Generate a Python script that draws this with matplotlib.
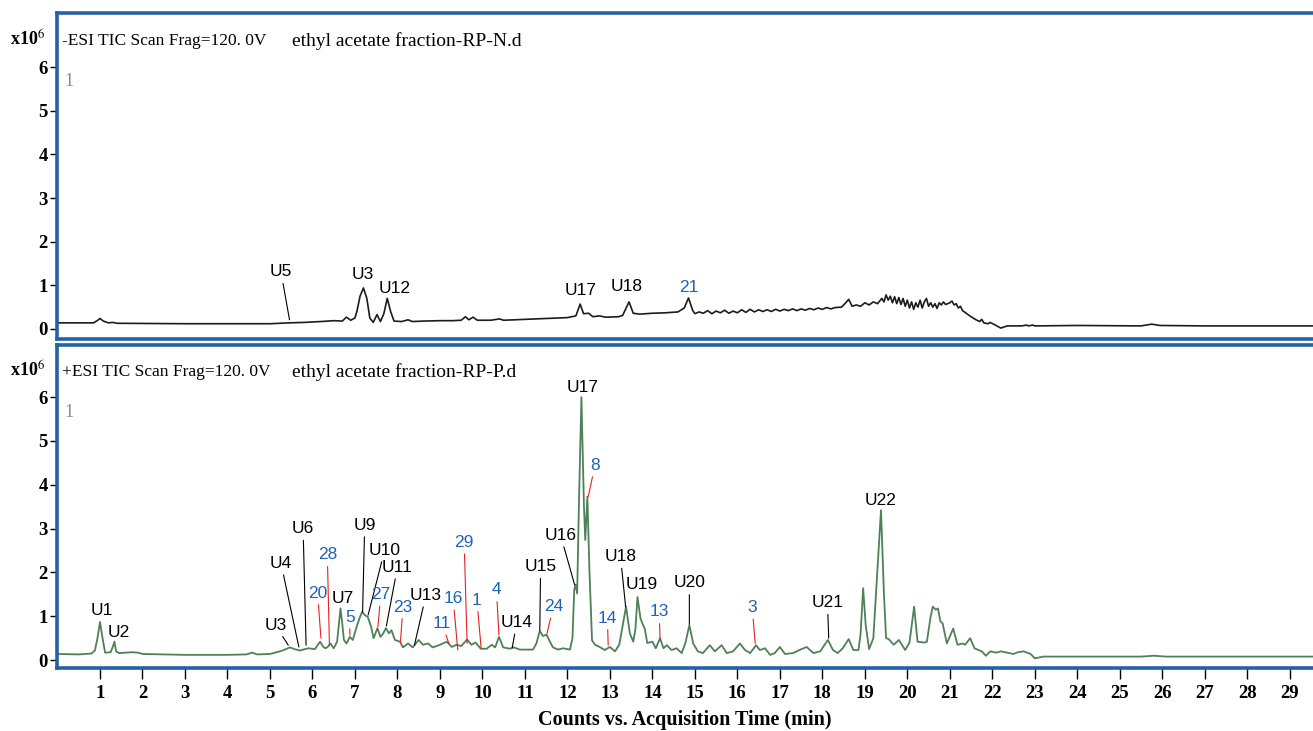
import matplotlib
matplotlib.use("Agg")
import matplotlib.pyplot as plt

plt.rcParams["mathtext.fontset"] = "stix"

# ---- data: (time in min, counts x10^6) ----
neg_trace = [
    (0.0, 0.14), (0.85, 0.14), (0.95, 0.2), (1.0, 0.24), (1.08, 0.18), (1.2, 0.14), (1.3, 0.15),
    (1.4, 0.13), (3.0, 0.12), (5.0, 0.12), (5.45, 0.14), (5.8, 0.15), (6.2, 0.17), (6.5, 0.19),
    (6.7, 0.18), (6.8, 0.27), (6.9, 0.2), (7.0, 0.25), (7.05, 0.42), (7.12, 0.75), (7.2, 0.94),
    (7.28, 0.7), (7.35, 0.25), (7.43, 0.15), (7.52, 0.33), (7.6, 0.17), (7.68, 0.35), (7.76, 0.7),
    (7.84, 0.4), (7.92, 0.18), (8.1, 0.17), (8.25, 0.21), (8.35, 0.17), (8.6, 0.18), (9.0, 0.19),
    (9.3, 0.19), (9.5, 0.2), (9.6, 0.28), (9.68, 0.21), (9.78, 0.27), (9.88, 0.2), (10.2, 0.2),
    (10.4, 0.23), (10.5, 0.2), (11.0, 0.22), (11.5, 0.24), (12.0, 0.26), (12.2, 0.3), (12.3, 0.57),
    (12.38, 0.35), (12.5, 0.36), (12.6, 0.28), (12.75, 0.3), (12.9, 0.27), (13.2, 0.28), (13.3, 0.31),
    (13.45, 0.62), (13.55, 0.36), (13.7, 0.34), (14.0, 0.36), (14.3, 0.37), (14.6, 0.39), (14.75, 0.48),
    (14.85, 0.71), (14.95, 0.42), (15.0, 0.35), (15.1, 0.39), (15.2, 0.36), (15.3, 0.42), (15.4, 0.35),
    (15.5, 0.41), (15.6, 0.37), (15.7, 0.43), (15.8, 0.36), (15.9, 0.41), (16.0, 0.37), (16.1, 0.44),
    (16.2, 0.38), (16.3, 0.45), (16.4, 0.39), (16.5, 0.44), (16.6, 0.4), (16.7, 0.44), (16.8, 0.4),
    (16.9, 0.45), (17.0, 0.41), (17.1, 0.45), (17.2, 0.42), (17.3, 0.46), (17.4, 0.42), (17.5, 0.46),
    (17.6, 0.43), (17.7, 0.47), (17.8, 0.44), (17.9, 0.48), (18.0, 0.45), (18.1, 0.49), (18.2, 0.46),
    (18.3, 0.49), (18.45, 0.5), (18.55, 0.6), (18.62, 0.68), (18.7, 0.52), (18.8, 0.55), (18.9, 0.52),
    (19.0, 0.6), (19.1, 0.55), (19.2, 0.62), (19.3, 0.58), (19.4, 0.7), (19.45, 0.62), (19.5, 0.78),
    (19.55, 0.66), (19.6, 0.75), (19.65, 0.6), (19.7, 0.74), (19.75, 0.58), (19.8, 0.72), (19.85, 0.56),
    (19.9, 0.7), (19.95, 0.52), (20.0, 0.66), (20.05, 0.48), (20.1, 0.62), (20.15, 0.45), (20.2, 0.6),
    (20.25, 0.5), (20.3, 0.66), (20.35, 0.48), (20.4, 0.62), (20.45, 0.7), (20.5, 0.52), (20.55, 0.6),
    (20.6, 0.5), (20.65, 0.58), (20.7, 0.47), (20.75, 0.6), (20.8, 0.55), (20.85, 0.62), (20.9, 0.56),
    (21.0, 0.6), (21.05, 0.64), (21.1, 0.55), (21.15, 0.58), (21.2, 0.48), (21.25, 0.52), (21.3, 0.42),
    (21.4, 0.35), (21.5, 0.28), (21.6, 0.22), (21.7, 0.17), (21.75, 0.22), (21.8, 0.14), (21.9, 0.12),
    (21.95, 0.15), (22.05, 0.1), (22.2, 0.02), (22.35, 0.07), (22.7, 0.07), (22.8, 0.09), (22.85, 0.07),
    (22.95, 0.09), (23.0, 0.07), (24.0, 0.08), (25.5, 0.07), (25.75, 0.11), (25.95, 0.08), (27.0, 0.07),
    (29.7, 0.07),
]

pos_trace = [
    (0.0, 0.14), (0.5, 0.13), (0.8, 0.15), (0.88, 0.22), (0.94, 0.5), (1.0, 0.87), (1.06, 0.5),
    (1.12, 0.17), (1.25, 0.18), (1.3, 0.3), (1.34, 0.42), (1.38, 0.2), (1.45, 0.16), (1.6, 0.17),
    (1.75, 0.18), (1.9, 0.17), (2.0, 0.14), (3.0, 0.12), (4.0, 0.12), (4.45, 0.13), (4.58, 0.17),
    (4.7, 0.13), (5.0, 0.14), (5.2, 0.19), (5.3, 0.22), (5.47, 0.29), (5.58, 0.25), (5.7, 0.22),
    (5.9, 0.27), (6.06, 0.25), (6.12, 0.34), (6.18, 0.42), (6.25, 0.31), (6.3, 0.27), (6.36, 0.3),
    (6.42, 0.38), (6.5, 0.27), (6.58, 0.42), (6.62, 0.8), (6.66, 1.18), (6.7, 0.85), (6.74, 0.46),
    (6.8, 0.38), (6.88, 0.53), (6.95, 0.46), (7.04, 0.76), (7.12, 0.99), (7.17, 1.1), (7.24, 1.02),
    (7.3, 0.99), (7.38, 0.76), (7.44, 0.5), (7.53, 0.73), (7.6, 0.53), (7.66, 0.6), (7.73, 0.73),
    (7.8, 0.61), (7.86, 0.68), (7.94, 0.46), (8.06, 0.42), (8.13, 0.29), (8.25, 0.38), (8.36, 0.29),
    (8.5, 0.46), (8.6, 0.35), (8.72, 0.38), (8.83, 0.29), (9.0, 0.35), (9.16, 0.42), (9.28, 0.3),
    (9.39, 0.35), (9.5, 0.32), (9.64, 0.47), (9.74, 0.35), (9.84, 0.4), (9.96, 0.26), (10.1, 0.26),
    (10.22, 0.35), (10.3, 0.29), (10.39, 0.53), (10.49, 0.29), (10.65, 0.26), (10.74, 0.29),
    (10.88, 0.24), (11.19, 0.24), (11.27, 0.38), (11.35, 0.67), (11.42, 0.55), (11.51, 0.58),
    (11.59, 0.42), (11.66, 0.29), (11.78, 0.24), (11.9, 0.27), (12.06, 0.24), (12.12, 0.5),
    (12.16, 1.6), (12.19, 1.72), (12.23, 1.52), (12.27, 3.5), (12.33, 6.0), (12.39, 3.5),
    (12.42, 2.74), (12.47, 3.73), (12.52, 2.0), (12.58, 0.45), (12.65, 0.35), (12.76, 0.3),
    (12.88, 0.23), (13.0, 0.3), (13.12, 0.2), (13.22, 0.35), (13.28, 0.68), (13.38, 1.22),
    (13.47, 0.61), (13.55, 0.42), (13.6, 0.7), (13.65, 1.44), (13.72, 0.95), (13.78, 0.8),
    (13.82, 0.72), (13.88, 0.39), (14.0, 0.42), (14.08, 0.27), (14.18, 0.5), (14.26, 0.27),
    (14.34, 0.34), (14.45, 0.23), (14.57, 0.27), (14.69, 0.16), (14.78, 0.4), (14.87, 0.8),
    (14.96, 0.38), (15.07, 0.2), (15.19, 0.16), (15.35, 0.34), (15.47, 0.2), (15.63, 0.34),
    (15.75, 0.16), (15.9, 0.2), (16.06, 0.38), (16.18, 0.23), (16.3, 0.16), (16.44, 0.34),
    (16.53, 0.23), (16.65, 0.27), (16.77, 0.12), (16.88, 0.16), (17.0, 0.3), (17.12, 0.14),
    (17.31, 0.16), (17.46, 0.23), (17.63, 0.3), (17.79, 0.16), (17.95, 0.2), (18.13, 0.46),
    (18.25, 0.23), (18.36, 0.16), (18.48, 0.27), (18.62, 0.48), (18.73, 0.23), (18.85, 0.23),
    (18.9, 0.6), (18.96, 1.64), (19.02, 0.8), (19.1, 0.25), (19.2, 0.5), (19.28, 1.8), (19.38, 3.42),
    (19.45, 1.5), (19.5, 0.5), (19.56, 0.48), (19.68, 0.35), (19.8, 0.46), (19.95, 0.23), (20.05, 0.4),
    (20.16, 1.22), (20.24, 0.42), (20.4, 0.4), (20.46, 0.42), (20.55, 1.0), (20.6, 1.22), (20.67, 1.15),
    (20.72, 1.18), (20.78, 0.88), (20.83, 0.84), (20.93, 0.38), (21.08, 0.72), (21.18, 0.35),
    (21.3, 0.38), (21.36, 0.35), (21.48, 0.5), (21.58, 0.27), (21.75, 0.2), (21.85, 0.1), (21.95, 0.2),
    (22.1, 0.17), (22.2, 0.2), (22.35, 0.17), (22.5, 0.14), (22.6, 0.18), (22.74, 0.2), (22.9, 0.14),
    (23.0, 0.04), (23.2, 0.08), (25.5, 0.08), (25.8, 0.1), (26.1, 0.08), (29.7, 0.08),
]

# labels: (text, label time, label height, peak time, peak height or None, kind)
# kind "U" = black label / black leader, "n" = blue number / red leader
neg_labels = [
    ("U5", 5.26, 1.31, 5.46, 0.21, "U"),
    ("U3", 7.18, 1.24, None, None, "U"),
    ("U12", 7.94, 0.93, None, None, "U"),
    ("U17", 12.31, 0.89, None, None, "U"),
    ("U18", 13.4, 0.97, None, None, "U"),
    ("21", 14.85, 0.95, None, None, "n"),
]

pos_labels = [
    ("U1", 1.05, 1.14, None, None, "U"),
    ("U2", 1.45, 0.62, None, None, "U"),
    ("U3", 5.13, 0.8, 5.43, 0.34, "U"),
    ("U4", 5.26, 2.21, 5.68, 0.3, "U"),
    ("U6", 5.78, 3.0, 5.85, 0.34, "U"),
    ("28", 6.35, 2.4, 6.4, 0.34, "n"),
    ("20", 6.12, 1.53, 6.2, 0.5, "n"),
    ("U7", 6.72, 1.41, None, None, "U"),
    ("5", 6.88, 0.98, 6.88, 0.57, "n"),
    ("U9", 7.23, 3.08, 7.18, 1.1, "U"),
    ("U10", 7.7, 2.51, 7.31, 1.03, "U"),
    ("U11", 8.0, 2.12, 7.74, 0.78, "U"),
    ("27", 7.61, 1.5, 7.54, 0.76, "n"),
    ("23", 8.13, 1.21, 8.07, 0.4, "n"),
    ("U13", 8.67, 1.48, 8.4, 0.34, "U"),
    ("11", 9.05, 0.84, 9.21, 0.38, "n"),
    ("16", 9.31, 1.41, 9.42, 0.23, "n"),
    ("29", 9.57, 2.69, 9.64, 0.38, "n"),
    ("1", 9.87, 1.37, 9.97, 0.27, "n"),
    ("4", 10.33, 1.6, 10.39, 0.57, "n"),
    ("U14", 10.81, 0.86, 10.7, 0.28, "U"),
    ("U15", 11.37, 2.13, 11.35, 0.68, "U"),
    ("24", 11.67, 1.22, 11.52, 0.61, "n"),
    ("U16", 11.84, 2.85, 12.17, 1.72, "U"),
    ("U17", 12.36, 6.22, None, None, "U"),
    ("8", 12.65, 4.45, 12.49, 3.73, "n"),
    ("U18", 13.25, 2.36, 13.37, 1.22, "U"),
    ("U19", 13.75, 1.73, None, None, "U"),
    ("14", 12.94, 0.96, 12.96, 0.34, "n"),
    ("13", 14.16, 1.1, 14.18, 0.5, "n"),
    ("U20", 14.87, 1.76, 14.87, 0.82, "U"),
    ("3", 16.35, 1.2, 16.42, 0.38, "n"),
    ("U21", 18.12, 1.31, 18.15, 0.5, "U"),
    ("U22", 19.38, 3.65, None, None, "U"),
]

x_ticks = list(range(1, 30))
y_ticks = [0, 1, 2, 3, 4, 5, 6]

W, H = 1313, 731
BLUE = "#2462a6"
SERIF = "Liberation Serif"
SANS = "Liberation Sans"

fig = plt.figure(figsize=(W / 100, H / 100), dpi=100)
fig.patch.set_facecolor("white")

ax_top = fig.add_axes([57.5 / W, 1 - 339 / H, 1262 / W, 326 / H])
ax_bot = fig.add_axes([57.5 / W, 1 - 668 / H, 1262 / W, 323 / H])


def style_axis(ax, ylo, yhi):
    ax.set_xlim(0, 29.7)
    ax.set_ylim(ylo, yhi)
    for side in ["left", "top", "bottom", "right"]:
        ax.spines[side].set_color(BLUE)
        ax.spines[side].set_linewidth(2.6)
    ax.set_yticks(y_ticks)
    ax.tick_params(axis="y", direction="out", length=5, width=1, color="black", pad=2)
    for lab in ax.get_yticklabels():
        lab.set_fontfamily(SERIF)
        lab.set_fontsize(13.5)
        lab.set_fontweight("bold")


def add_labels(ax, labels):
    for text, tx, ty, px, py, kind in labels:
        tcol = "black" if kind == "U" else "#1f63b5"
        lcol = "black" if kind == "U" else "#e5231f"
        if px is None:
            ax.text(tx, ty, text, ha="center", va="center", fontsize=12.5,
                    family=SANS, color=tcol)
        else:
            ax.annotate(text, xy=(px, py), xytext=(tx, ty), ha="center", va="center",
                        fontsize=12.5, family=SANS, color=tcol,
                        arrowprops=dict(arrowstyle="-", color=lcol, lw=0.8,
                                        shrinkA=1, shrinkB=0))


# top panel: negative mode
t, c = zip(*neg_trace)
ax_top.plot(t, c, color="#1c1c1c", lw=1.2)
style_axis(ax_top, -0.23, 7.24)
ax_top.tick_params(axis="x", bottom=False, labelbottom=False)
add_labels(ax_top, neg_labels)

# bottom panel: positive mode
t, c = zip(*pos_trace)
ax_bot.plot(t, c, color="#4f8058", lw=1.3)
style_axis(ax_bot, -0.18, 7.19)
ax_bot.set_xticks(x_ticks)
ax_bot.tick_params(axis="x", direction="out", length=8, width=1, color="black", pad=4)
for lab in ax_bot.get_xticklabels():
    lab.set_fontfamily(SERIF)
    lab.set_fontsize(13.5)
    lab.set_fontweight("bold")
add_labels(ax_bot, pos_labels)

# panel headers
for ax, sign, fname in [(ax_top, "-", "ethyl acetate fraction-RP-N.d"),
                        (ax_bot, "+", "ethyl acetate fraction-RP-P.d")]:
    ax.text(4.5 / 1262, 0.915, sign + "ESI TIC Scan Frag=120. 0V", transform=ax.transAxes,
            ha="left", va="center", fontsize=12.5, family=SERIF)
    ax.text(234 / 1262, 0.915, fname, transform=ax.transAxes,
            ha="left", va="center", fontsize=14, family=SERIF)
    ax.text(7 / 1262, 0.79, "1", transform=ax.transAxes, ha="left", va="center",
            fontsize=13, family=SERIF, color="#8a8a8a")

fig.text(10 / W, 1 - 40 / H, r"x10$^{6}$", ha="left", va="center", fontsize=13,
         family=SERIF, fontweight="bold")
fig.text(10 / W, 1 - 371 / H, r"x10$^{6}$", ha="left", va="center", fontsize=13,
         family=SERIF, fontweight="bold")

fig.text(685 / W, 1 - 720 / H, "Counts vs. Acquisition Time (min)", ha="center", va="center",
         fontsize=14.5, family=SERIF, fontweight="bold")

fig.savefig("out.png", dpi=100, facecolor="white")
